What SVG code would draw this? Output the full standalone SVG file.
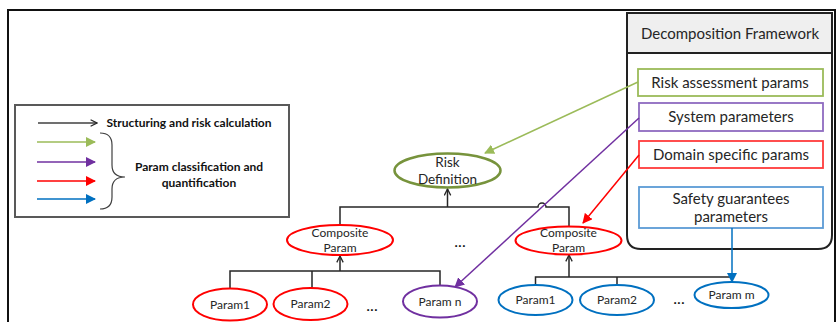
<svg xmlns="http://www.w3.org/2000/svg" width="838" height="322" viewBox="0 0 838 322">
  <style>
    text { font-family: Lato, "Open Sans", "Liberation Sans", sans-serif; fill: #262626; text-anchor: middle; }
    .box { font-size: 15px; }
    .node { font-size: 12px; }
    .big { font-size: 13.5px; }
    .dots { font-size: 16px; fill: #111; }
    .legend { font-size: 12px; font-weight: bold; fill: #111; }
    .tree { fill: none; stroke: #262626; stroke-width: 1.5; }
    .el { fill: #fff; stroke-width: 2; }
    .red { stroke: #ff0000; }
    .blue { stroke: #0070c0; }
    .purple { stroke: #7030a0; }
  </style>
  <defs>
    <marker id="open" viewBox="0 0 10 10" refX="9" refY="5" markerWidth="8" markerHeight="8" markerUnits="userSpaceOnUse" orient="auto">
      <path d="M1,1 L9,5 L1,9" fill="none" stroke="#262626" stroke-width="1.6"/>
    </marker>
    <marker id="ahGreen" viewBox="0 0 10 10" refX="9" refY="5" markerWidth="10" markerHeight="10" markerUnits="userSpaceOnUse" orient="auto">
      <path d="M0,0 L10,5 L0,10 z" fill="#9bbb59"/>
    </marker>
    <marker id="ahPurple" viewBox="0 0 10 10" refX="9" refY="5" markerWidth="10" markerHeight="10" markerUnits="userSpaceOnUse" orient="auto">
      <path d="M0,0 L10,5 L0,10 z" fill="#7030a0"/>
    </marker>
    <marker id="ahRed" viewBox="0 0 10 10" refX="9" refY="5" markerWidth="10" markerHeight="10" markerUnits="userSpaceOnUse" orient="auto">
      <path d="M0,0 L10,5 L0,10 z" fill="#ff0000"/>
    </marker>
    <marker id="ahBlue" viewBox="0 0 10 10" refX="9" refY="5" markerWidth="10" markerHeight="10" markerUnits="userSpaceOnUse" orient="auto">
      <path d="M0,0 L10,5 L0,10 z" fill="#0070c0"/>
    </marker>
  </defs>

  <rect width="838" height="322" fill="#fff"/>
  <!-- outer frame -->
  <rect x="8" y="10" width="827" height="330" fill="none" stroke="#111" stroke-width="2"/>

  <!-- legend -->
  <g id="legend">
    <rect x="15" y="105" width="274" height="112" fill="#fff" stroke="#595959" stroke-width="2"/>
    <line x1="38" y1="123" x2="97" y2="123" stroke="#404040" stroke-width="1.5" marker-end="url(#open)"/>
    <line x1="37" y1="142" x2="95" y2="142" stroke="#9bbb59" stroke-width="1.5" marker-end="url(#ahGreen)"/>
    <line x1="37" y1="162" x2="95" y2="162" stroke="#7030a0" stroke-width="1.5" marker-end="url(#ahPurple)"/>
    <line x1="37" y1="181" x2="95" y2="181" stroke="#ff0000" stroke-width="1.5" marker-end="url(#ahRed)"/>
    <line x1="37" y1="199" x2="95" y2="199" stroke="#0070c0" stroke-width="1.5" marker-end="url(#ahBlue)"/>
    <path d="M100,133 Q112,133 112,145 V165 Q112,177 125,177 Q112,177 112,189 V197 Q112,209 100,209" fill="none" stroke="#404040" stroke-width="1.2"/>
    <text class="legend" x="189" y="127">Structuring and risk calculation</text>
    <text class="legend" x="199" y="171">Param classification and</text>
    <text class="legend" x="199" y="186.5">quantification</text>
  </g>

  <!-- decomposition framework container -->
  <g id="framework">
    <path d="M627,13 H832 V235 Q832,249 818,249 H641 Q627,249 627,235 Z" fill="#fff" stroke="#222" stroke-width="2"/>
    <rect x="628" y="14" width="203" height="39" fill="#efefef"/>
    <line x1="627" y1="53" x2="832" y2="53" stroke="#222" stroke-width="2"/>
    <text class="box" x="730" y="38.5">Decomposition Framework</text>
  </g>
  <g id="riskAssessment">
    <rect x="638" y="69" width="185" height="27" fill="#fff" stroke="#9bbb59" stroke-width="1.8"/>
    <text class="box" x="730" y="88">Risk assessment params</text>
  </g>
  <g id="systemParams">
    <rect x="639" y="103" width="184" height="28" fill="#fff" stroke="#8e6bc0" stroke-width="1.8"/>
    <text class="box" x="731" y="122">System parameters</text>
  </g>
  <g id="domainParams">
    <rect x="639" y="141" width="184" height="27" fill="#fff" stroke="#ff3b3b" stroke-width="1.8"/>
    <text class="box" x="731" y="159.5">Domain specific params</text>
  </g>
  <g id="safetyParams">
    <rect x="639" y="187" width="184" height="41" fill="#fff" stroke="#5b9bd5" stroke-width="1.8"/>
    <text class="box" x="731" y="204">Safety guarantees</text>
    <text class="box" x="731" y="222">parameters</text>
  </g>

  <!-- tree connectors and parameter links -->
  <g id="connectors">
    <path class="tree" d="M340,225 V207 H538 A4,4 0 0 1 546,207 H569 V227"/>
    <line x1="447.5" y1="207" x2="447.5" y2="189" class="tree" marker-end="url(#open)"/>
    <path class="tree" d="M230,288 V271 H440 V286 M312,271 V288"/>
    <line x1="340" y1="271" x2="340" y2="256" class="tree" marker-end="url(#open)"/>
    <path class="tree" d="M535.5,285 V277 H732 M617,277 V285"/>
    <line x1="569" y1="277" x2="569" y2="255" class="tree" marker-end="url(#open)"/>

    <line x1="638" y1="82" x2="485" y2="153" stroke="#9bbb59" stroke-width="1.5" marker-end="url(#ahGreen)"/>
    <line x1="639" y1="118" x2="455" y2="287" stroke="#7030a0" stroke-width="1.5" marker-end="url(#ahPurple)"/>
    <line x1="639" y1="155" x2="583" y2="223" stroke="#ff0000" stroke-width="1.5" marker-end="url(#ahRed)"/>
    <line x1="732" y1="228" x2="732" y2="282" stroke="#0070c0" stroke-width="1.5" marker-end="url(#ahBlue)"/>
  </g>

  <g id="riskDefinition">
    <ellipse cx="447.5" cy="170.5" rx="53" ry="17" fill="#fff" stroke="#77933c" stroke-width="2.5"/>
    <text class="big" x="447.5" y="167">Risk</text>
    <text class="big" x="447.5" y="184">Definition</text>
  </g>
  <g id="compositeLeft">
    <ellipse class="el red" cx="340" cy="240" rx="53" ry="15"/>
    <text class="node" x="340" y="237">Composite</text>
    <text class="node" x="340" y="252">Param</text>
  </g>
  <g id="compositeRight">
    <ellipse class="el red" cx="568.5" cy="240.5" rx="53" ry="14"/>
    <text class="node" x="568.5" y="237">Composite</text>
    <text class="node" x="568.5" y="251.5">Param</text>
  </g>
  <text class="dots" x="460" y="247">...</text>

  <g id="leftParam1">
    <ellipse class="el red" cx="230" cy="304.5" rx="37" ry="16"/>
    <text class="node" x="230" y="308.5">Param1</text>
  </g>
  <g id="leftParam2">
    <ellipse class="el red" cx="310.5" cy="304" rx="37" ry="16"/>
    <text class="node" x="310.5" y="308">Param2</text>
  </g>
  <text class="dots" x="372" y="311">...</text>
  <g id="paramN">
    <ellipse class="el purple" cx="440" cy="301.5" rx="37" ry="16"/>
    <text class="node" x="440" y="305.5">Param n</text>
  </g>

  <g id="rightParam1">
    <ellipse class="el blue" cx="535.5" cy="300" rx="37" ry="15"/>
    <text class="node" x="535.5" y="304">Param1</text>
  </g>
  <g id="rightParam2">
    <ellipse class="el blue" cx="617" cy="300" rx="37" ry="15"/>
    <text class="node" x="617" y="304">Param2</text>
  </g>
  <text class="dots" x="679" y="304">...</text>
  <g id="paramM">
    <ellipse class="el blue" cx="731.5" cy="295" rx="37" ry="13"/>
    <text class="node" x="731.5" y="299">Param m</text>
  </g>
</svg>
